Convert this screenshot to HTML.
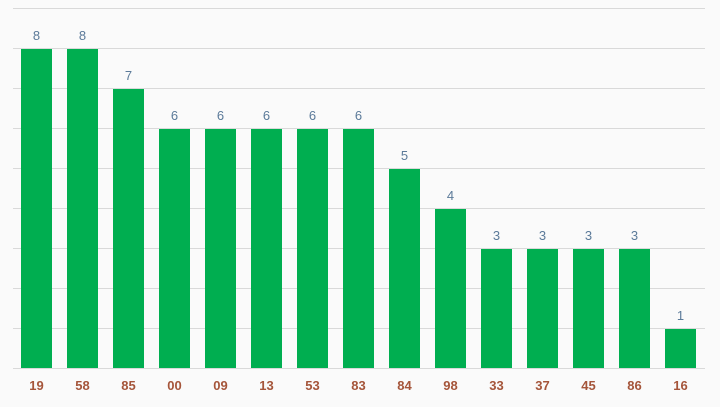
<!DOCTYPE html>
<html><head><meta charset="utf-8"><style>
html,body{margin:0;padding:0;background:#fafafa;}
svg{display:block;}
text{font-family:"Liberation Sans",Arial,sans-serif;}
</style></head><body>
<svg width="720" height="407" viewBox="0 0 720 407" xmlns="http://www.w3.org/2000/svg">
<rect width="720" height="407" fill="#fafafa"/>
<g stroke="#d9d9d9" stroke-width="1">
<line x1="13" x2="705" y1="8.5" y2="8.5"/>
<line x1="13" x2="705" y1="48.5" y2="48.5"/>
<line x1="13" x2="705" y1="88.5" y2="88.5"/>
<line x1="13" x2="705" y1="128.5" y2="128.5"/>
<line x1="13" x2="705" y1="168.5" y2="168.5"/>
<line x1="13" x2="705" y1="208.5" y2="208.5"/>
<line x1="13" x2="705" y1="248.5" y2="248.5"/>
<line x1="13" x2="705" y1="288.5" y2="288.5"/>
<line x1="13" x2="705" y1="328.5" y2="328.5"/>
<line x1="13" x2="705" y1="368.5" y2="368.5"/>
</g>
<g fill="#00ae50">
<rect x="21" y="49" width="31" height="319"/>
<rect x="67" y="49" width="31" height="319"/>
<rect x="113" y="89" width="31" height="279"/>
<rect x="159" y="129" width="31" height="239"/>
<rect x="205" y="129" width="31" height="239"/>
<rect x="251" y="129" width="31" height="239"/>
<rect x="297" y="129" width="31" height="239"/>
<rect x="343" y="129" width="31" height="239"/>
<rect x="389" y="169" width="31" height="199"/>
<rect x="435" y="209" width="31" height="159"/>
<rect x="481" y="249" width="31" height="119"/>
<rect x="527" y="249" width="31" height="119"/>
<rect x="573" y="249" width="31" height="119"/>
<rect x="619" y="249" width="31" height="119"/>
<rect x="665" y="329" width="31" height="39"/>
</g>
<g fill="#5b7a99" font-size="13" text-anchor="middle">
<text x="36.5" y="40">8</text>
<text x="82.5" y="40">8</text>
<text x="128.5" y="80">7</text>
<text x="174.5" y="120">6</text>
<text x="220.5" y="120">6</text>
<text x="266.5" y="120">6</text>
<text x="312.5" y="120">6</text>
<text x="358.5" y="120">6</text>
<text x="404.5" y="160">5</text>
<text x="450.5" y="200">4</text>
<text x="496.5" y="240">3</text>
<text x="542.5" y="240">3</text>
<text x="588.5" y="240">3</text>
<text x="634.5" y="240">3</text>
<text x="680.5" y="320">1</text>
</g>
<g fill="#a5553a" font-size="13" font-weight="bold" text-anchor="middle">
<text x="36.5" y="390">19</text>
<text x="82.5" y="390">58</text>
<text x="128.5" y="390">85</text>
<text x="174.5" y="390">00</text>
<text x="220.5" y="390">09</text>
<text x="266.5" y="390">13</text>
<text x="312.5" y="390">53</text>
<text x="358.5" y="390">83</text>
<text x="404.5" y="390">84</text>
<text x="450.5" y="390">98</text>
<text x="496.5" y="390">33</text>
<text x="542.5" y="390">37</text>
<text x="588.5" y="390">45</text>
<text x="634.5" y="390">86</text>
<text x="680.5" y="390">16</text>
</g>
</svg>
</body></html>
